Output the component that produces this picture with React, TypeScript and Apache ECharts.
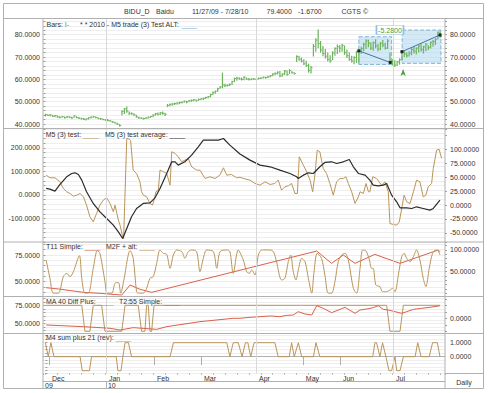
import React, { useEffect, useRef } from 'react';
import * as echarts from 'echarts';

// ---------- axis ticks / labels ----------
const monthTicks = [1.5, 25.3, 45.4, 65, 88, 107.6, 123.1, 145.3];
const monthNames = ['Dec', 'Jan', 'Feb', 'Mar', 'Apr', 'May', 'Jun', 'Jul'];
const yearTicks = [-1, 25.3];
const yearNames = ['09', '10'];
const quarterLines = [25.3, 88, 145.3];

const p1Labels = [40, 50, 60, 70, 80];
const p2LeftLabels = [-100, 0, 100, 200];
const p2RightLabels = [-50, -25, 0, 25, 50, 75, 100];
const p3LeftLabels = [50, 75];
const p3RightLabels = [50, 100];
const p4LeftLabels = [50, 75];
const p4RightLabels = [0];
const p5RightLabels = [0, 1];

// ---------- price bars (daily) ----------
const priceLow = [
  43.4, 43.6, 43.5, 43.2, 43.0, 42.8, 42.6, 42.9, 42.5, 42.7,
  42.8, 42.4, 42.8, 42.6, 42.2, 42.0, 41.8, 41.6, 42.0, 42.5,
  42.8, 42.6, 42.2, 41.9, 41.7, 41.5, 41.2, 41.0, 40.6, 40.2,
  39.6, 38.9, 43.8, 44.5, 45.0, 44.0, 44.2, 43.6, 42.8, 42.4,
  42.2, 42.0, 42.3, 42.5, 42.8, 43.0, 43.8, 43.8, 44.0, 44.2,
  43.6, 47.6, 48.0, 48.2, 48.5, 48.6, 48.9, 49.2, 49.5, 49.3,
  49.8, 50.0, 50.2, 50.1, 50.4, 50.6, 50.8, 51.2, 51.5, 52.0,
  53.0, 53.6, 54.5, 55.8, 56.0, 56.6, 56.8, 57.0, 57.5, 58.8,
  59.4, 59.8, 59.5, 59.6, 59.8, 59.5, 59.6, 59.8, 59.7, 59.9,
  60.2, 60.4, 60.3, 60.6, 61.0, 61.4, 61.8, 62.2, 61.0, 61.2,
  62.0, 61.6, 62.4, 62.6, 62.2, 67.8, 68.4, 67.6, 66.4, 65.6,
  63.0, 62.6, 70.2, 72.4, 74.0, 72.0, 70.4, 69.2, 68.0, 67.4,
  68.6, 70.6, 71.4, 72.0, 72.4, 71.0, 69.6, 68.4, 67.6, 66.8,
  67.4, 67.0, 71.4, 72.6, 73.6, 74.4, 73.2, 72.8, 74.0, 72.6,
  73.0, 74.4, 73.4, 73.6, 66.8, 66.2, 65.6, 66.0, 66.6, 68.4,
  70.0, 69.8, 70.2, 70.8, 71.6, 71.2, 72.0, 72.4, 71.6, 72.6,
  73.0, 73.8, 74.6, 75.4, 78.0, 78.8,
];
const priceHigh = [
  44.6, 44.4, 44.5, 44.1, 44.0, 43.8, 43.5, 43.6, 43.4, 43.6,
  43.5, 43.3, 43.9, 43.5, 43.1, 42.8, 42.7, 42.6, 43.0, 43.4,
  43.6, 43.4, 43.0, 42.8, 42.5, 42.3, 42.2, 41.8, 41.4, 41.0,
  40.6, 40.0, 46.2, 47.2, 47.8, 45.6, 45.2, 44.8, 44.2, 43.3,
  43.0, 42.8, 43.0, 43.4, 43.6, 44.4, 45.0, 45.2, 45.4, 45.6,
  45.0, 49.0, 49.2, 49.4, 49.5, 49.8, 50.0, 50.1, 50.5, 50.4,
  50.8, 51.0, 51.2, 51.0, 51.4, 51.6, 51.8, 52.2, 52.6, 53.6,
  54.6, 55.0, 56.2, 57.0, 63.0, 58.0, 57.8, 58.2, 59.4, 60.8,
  61.2, 61.0, 60.8, 61.4, 60.8, 60.6, 60.5, 60.6, 60.4, 60.8,
  61.0, 61.3, 61.2, 61.6, 62.0, 62.8, 63.2, 63.6, 63.8, 62.8,
  64.2, 64.0, 64.6, 63.8, 63.2, 70.8, 70.6, 69.8, 69.0, 68.4,
  67.0, 66.0, 75.8, 78.4, 82.4, 77.2, 75.0, 73.6, 72.0, 70.8,
  72.6, 74.4, 75.6, 75.4, 76.0, 75.2, 73.4, 72.0, 70.6, 70.4,
  72.8, 73.2, 74.6, 76.4, 78.0, 77.8, 76.6, 77.0, 78.0, 76.0,
  76.8, 77.6, 76.4, 78.0, 72.0, 69.0, 68.6, 68.4, 69.4, 72.8,
  73.0, 72.2, 72.6, 74.0, 74.8, 74.4, 75.6, 76.0, 75.0, 76.2,
  75.4, 77.0, 77.6, 78.4, 81.4, 81.6,
];
const priceClose = [
  44.2, 43.9, 44.0, 43.5, 43.8, 43.2, 43.0, 43.3, 42.8, 43.2,
  43.0, 42.7, 43.6, 42.9, 42.6, 42.4, 42.1, 42.3, 42.8, 43.1,
  43.3, 42.9, 42.4, 42.3, 42.0, 41.8, 41.6, 41.3, 40.9, 40.5,
  40.0, 39.3, 45.6, 46.8, 45.8, 44.8, 44.6, 44.1, 43.2, 42.8,
  42.6, 42.5, 42.7, 43.0, 43.4, 44.0, 44.6, 44.4, 45.0, 44.8,
  44.3, 48.4, 48.8, 49.0, 49.2, 49.4, 49.6, 49.8, 50.2, 49.9,
  50.5, 50.6, 50.9, 50.4, 51.0, 51.3, 51.5, 51.9, 52.3, 53.2,
  54.2, 54.7, 55.8, 56.6, 57.5, 57.2, 57.4, 57.8, 59.0, 60.4,
  60.6, 60.2, 60.0, 61.0, 60.1, 60.0, 60.1, 60.2, 60.0, 60.4,
  60.6, 61.0, 60.8, 61.2, 61.6, 62.4, 62.6, 63.2, 61.6, 62.4,
  63.8, 62.2, 64.0, 63.0, 62.6, 70.2, 69.0, 68.2, 67.0, 66.2,
  64.0, 65.2, 74.8, 77.6, 76.0, 73.2, 71.6, 70.4, 69.0, 68.4,
  71.8, 73.8, 74.6, 74.0, 75.2, 72.0, 70.6, 69.0, 68.2, 69.8,
  72.2, 72.6, 73.8, 75.8, 77.2, 76.2, 74.0, 76.4, 75.0, 73.6,
  76.2, 75.4, 74.0, 77.2, 67.6, 67.0, 66.4, 67.8, 68.8, 72.4,
  71.4, 70.6, 71.8, 73.4, 72.6, 74.0, 74.8, 73.4, 74.6, 75.8,
  74.2, 76.6, 77.0, 78.0, 81.1, 79.4,
];

// ---------- indicator series: [day index, value] ----------
const m5Test = [
  [0.3, 84], [1.9, 72.7], [4, 72.7], [6.1, 55.7], [7.5, 27.4], [8.9, 13.2], [10.3, 6.1], [11.7, -5.2],
  [13.1, -0.9], [14.5, 6.1], [15.9, -8], [17.2, -43.4], [18.6, -93], [20, -114.3], [21.4, -78.8],
  [22.8, -43.4], [24.2, -22.2], [25.6, -12.3], [27, -36.3], [28.4, -71.8], [29.1, -43.4], [30.5, -107.2],
  [31.2, -128.4], [32.3, -178], [32.7, -185], [34, 240], [35, 237], [35.6, 232], [36.7, 105], [38.1, 91],
  [39.5, 55.7], [40.2, 13.2], [40.9, -0.9], [42.3, -8], [43.7, -36.3], [44.8, -43.4], [45.4, -22.2],
  [46.2, 13.2], [47.2, 20.3], [47.9, 105.3], [49.3, 98.2], [50.7, 91.1], [52.1, 41.5], [52.8, 183.2],
  [54.2, 176.1], [55.5, 162], [56.9, 140.7], [58.3, 147.8], [59.7, 154.9], [61.1, 119.5], [63.2, 105.3],
  [64.6, 105.3], [66.7, 69.9], [68.8, 77], [70.9, 69.9], [72.9, 84], [74.4, 115.2], [75.8, 84], [77.8, 86.9],
  [79.9, 72.7], [81.3, 75], [83.4, 68], [85.5, 62.8], [87.6, 48.6], [89.7, 41.5], [91.8, 55.7], [93.9, 44.4],
  [95.9, 48.6], [97.3, 62.8], [98.7, 20.3], [100.1, 34.5], [101.5, 38.7], [102.9, 48.6], [104.3, 6.1],
  [105.3, 6.1], [106.1, 162], [107.8, 126.5], [109.2, 98.2], [110.6, 62.8], [111.7, 13.2], [112.7, 91.1],
  [113.6, 190.3], [114.7, 183.2], [116.1, 112.4], [117.5, 91.1], [118.9, 48.6], [120.3, -0.9], [121.7, 55.7],
  [123.1, 69.9], [124.5, 69.9], [125.6, 77], [126.6, 48.6], [128, 13.2], [129.4, -36.3], [130.8, -8],
  [131.5, 13.2], [132.9, 6.1], [134, 48.6], [135, 13.2], [135.6, 13.2], [136.8, 77], [138.4, 69.9],
  [140.5, 41.5], [141.9, 55.7], [143.3, 13.2], [144, -121.3], [145.4, -125.6], [146.8, -128.4],
  [147.9, -114.3], [148.9, -57.6], [149.9, -0.9], [151, -29.3], [152.4, -36.3], [153.8, 13.2], [155.1, 62.8],
  [156.5, 55.7], [157.9, -8], [159, -0.9], [160, 34.5], [161.4, 48.6], [162.1, 112.4], [163.5, 190.3],
  [164.5, 194.5], [165.6, 154.9],
];
const m5Avg = [
  [0.3, 27.4], [1.9, 24.6], [4, 16.1], [6.1, 44.4], [8.9, 77], [11, 91.1], [12.4, 94], [13.8, 86.9],
  [15.2, 62.8], [17.2, 13.2], [20, -36.3], [22.8, -71.8], [25.6, -100.1], [28.4, -128.4], [30.5, -156.7],
  [32.3, -185.1], [34, -142.6], [36, -93], [38.1, -57.6], [40.9, -36.3], [43.7, -33.5], [45.8, -12.3],
  [47.9, 27.4], [50.7, 91.1], [52.8, 140.7], [54.2, 140.7], [55.5, 126.5], [58.3, 140.7], [61.1, 169],
  [63.9, 204.4], [66, 232.8], [68.8, 232.8], [72.3, 232.8], [74.4, 239.8], [77.1, 211.5], [81.3, 174],
  [85.5, 147.8], [89.7, 126.5], [93.9, 119.5], [98, 105.3], [102.2, 91.1], [105, 77], [105.7, 69.9],
  [107.8, 84], [109.9, 94], [112, 91.1], [114.7, 119.5], [116.8, 137.9], [119.6, 140.7], [121.7, 133.6],
  [124.5, 140.7], [127, 150.6], [128.7, 119.5], [130.8, 91.1], [133.6, 84], [135.6, 62.8], [137, 41.5],
  [139.1, 38.7], [141.2, 41.5], [142.6, 48.6], [144.7, -0.9], [146.8, -29.3], [148.2, -54.8], [151, -54.8],
  [153.1, -57.6], [155.1, -50.5], [157.9, -57.6], [160.7, -64.7], [162.1, -57.6], [164.9, -22.2],
];
const t11Simple = [
  [0.3, 44.4], [5.4, 43.2], [15.9, 40], [22.8, 39.1], [31.9, 37.5], [35.4, 46.9], [39.5, 42.9], [44.4, 40],
  [85.5, 63.1], [113.4, 78.7], [119.6, 67.2], [124.5, 75], [129.4, 67.2], [137.7, 75.6], [148.2, 67.2],
  [164.2, 79.7], [164.9, 78.1],
];
const m2fAlt = [
  [0.3, 77], [1.9, 34.7], [3.3, 0.5], [5.4, 0.5], [7.5, 38.6], [8.9, 46.2], [10.3, 38.6], [11.7, 50.1],
  [14.2, 86.9], [15.2, 34.7], [16.5, 0.5], [17.9, 0.5], [20, 57.8], [21.7, 98.5], [22.8, 92.3], [24.9, 27],
  [25.8, 0.5], [27.7, 0.5], [29.1, 23.2], [30.5, 25], [31.5, 0.5], [32.8, 30.9], [35.4, 98.5], [36.7, 80.8],
  [38.1, 4], [38.8, 0.5], [40.9, 0.5], [42.3, 11.7], [43.7, 34.7], [45.1, 38.6], [46.5, 69.3], [47.9, 100],
  [49.3, 92.3], [50.7, 90], [52.1, 57.8], [53.5, 88.5], [54.9, 100], [57, 96.2], [58.3, 80.8], [59.7, 96.2],
  [61.1, 100], [63.2, 96.2], [64.6, 50.1], [66, 80.8], [67.4, 100], [70.2, 96.2], [71.6, 57.8], [73, 96.2],
  [75.8, 100], [77.1, 96.2], [78.5, 46.2], [80.6, 100], [82.7, 77], [84.1, 50.1], [85.2, 46.2], [86.2, 53.9],
  [87.6, 42.4], [89, 88.5], [90.4, 100], [93.9, 100], [95.3, 96.2], [96.6, 73.1], [98.7, 30.9], [100.1, 34.7],
  [101.5, 73.1], [102.5, 88.5], [103.6, 50.1], [104.7, 30.9], [105.7, 53.9], [107.1, 80.8], [108.5, 73.1],
  [109.9, 34.7], [111.3, 0.5], [112.2, 46.2], [113.6, 92.3], [115.4, 80.8], [116.8, 42.4], [118.2, 0.5],
  [119.6, 0.5], [121, 27], [122.4, 73.1], [123.8, 88.5], [125.2, 92.3], [126.6, 77], [128.7, 11.7],
  [130.1, 0.5], [131.5, 57.8], [132.6, 100], [134, 97.7], [135.4, 77], [136.3, 57.8], [137, 57.8],
  [138.1, 19.4], [139.8, 15.5], [140.9, 4], [142.6, 4], [144, 7.8], [145.1, 11.7], [146.1, 4], [147.5, 42.4],
  [148.9, 84.6], [149.9, 92.3], [151, 80.8], [152.4, 73.1], [153.8, 84.6], [155.1, 100], [156.5, 77],
  [157.9, 34.7], [159, 15.5], [160.4, 57.8], [161.8, 92.3], [163.2, 100], [164.2, 97.7], [164.9, 88.5],
];
const ma40Diff = [
  [0, 1], [15.2, 1], [16.5, -1], [18.6, -1], [20, 1], [23.5, 1], [24.9, -1], [31.9, -1], [33.3, 1], [38.8, 1],
  [40.2, -1], [41.6, -1], [42.3, 1], [43, 1], [43.7, -1], [44.4, -1], [45.4, 1], [142.6, 1], [144, -1],
  [148.2, -1], [149.6, 1], [165, 1],
];
const t255Simple = [
  [0.3, 47.6], [15.9, 45.2], [27, 42.9], [31.2, 40.5], [36.7, 43.8], [46.5, 41.4], [50.7, 45.2], [64.6, 52.3],
  [78.5, 57.1], [81.3, 57.1], [85.5, 58.5], [89.7, 59.4], [93.9, 60.4], [98, 59.4], [100.8, 61.3],
  [103.6, 61.8], [105.7, 66.5], [108.5, 63.2], [111.3, 61.8], [113.4, 75], [116.1, 71.3], [119.6, 65.1],
  [123.1, 69.8], [125.2, 72.7], [129.4, 64.2], [131.5, 68.9], [134.2, 70.3], [137, 72.2], [139.1, 75],
  [141.2, 69.8], [143.3, 68.9], [146.1, 66.5], [148.9, 64.2], [151, 66.5], [153.8, 69.8], [157.2, 71.3],
  [160.7, 72.7], [164.9, 75],
];
const m4Sum = [
  [0, 1], [1.2, 0], [2.3, 1], [3.6, 0], [14.5, 0], [15.4, -1], [18.4, -1], [19.3, 0], [29.6, 0], [30.3, -1],
  [31.6, -1], [32.4, 0], [33.3, 1], [34.7, 1], [36, 0], [52.1, 0], [53.5, 1], [75.8, 1], [77.1, 0], [78.5, 1],
  [80.6, 1], [82.2, 0], [83.6, 1], [84.6, 1], [85.8, 0], [87.2, 1], [95.9, 1], [97.3, 0], [101.9, 0],
  [102.9, 1], [104, 0], [105.7, 1], [107.1, 0], [112, 0], [113.1, 1], [114.7, 0], [136.8, 0], [137.7, 1],
  [138.4, 1], [139.8, 0], [140.9, 1], [142.3, 0], [143.6, -1], [144.7, -1], [146.1, 0], [146.8, -1],
  [148.2, -1], [149.6, 0], [154.5, 0], [155.6, 1], [157, 0], [160.4, 0], [161.8, 1], [163.8, 1], [164.9, 0],
];

// ---------- annotation (trade boxes) ----------
const tradeBoxes = [
  [[131, 79.1], [144.7, 66.7]],
  [[149.1, 82.1], [165.3, 67.2]],
];
const tradeLines = [
  [[131, 72.8], [144.1, 67.6]],
  [[149, 72.4], [164.9, 79.9]],
];
const tradeLabel = { coord: [144, 82.1], text: '-5.2800' };
const tradeArrow = [149.5, 64.6];

const FONT = 'Liberation Sans, Arial, Helvetica, sans-serif';
const TXT = '#333';
const FINE = '#eeeeee';
const TICK = '#9a9a9a';
const ORANGE = '#bb955a';
const RED = '#d9604a';
const GREEN = '#6db35d';
const FRAME = '#b0b0b0';

const near = (list: number[], v: number) => list.findIndex((l) => Math.abs(l - v) < 1e-3);

function yAx(gridIndex: number, position: string, min: number, max: number, step: number, labels: number[], split: boolean) {
  return {
    type: 'value',
    gridIndex,
    position,
    min,
    max,
    minInterval: step,
    maxInterval: step,
    axisLine: { show: false },
    axisTick: { show: true, length: 2, lineStyle: { color: TICK } },
    axisLabel: {
      show: true,
      fontSize: 7,
      color: TXT,
      fontFamily: FONT,
      margin: position === 'left' ? 3 : 5,
      formatter: (v: number) => (near(labels, v) >= 0 ? v.toFixed(4) : ''),
    },
    splitLine: { show: split, lineStyle: { color: FINE, width: 1 } },
  };
}

function hiddenX(gridIndex: number) {
  return { type: 'value', gridIndex, min: -1, max: 167, show: false, splitLine: { show: false } };
}

function quarterHelper(xi: number, yi: number) {
  return {
    type: 'line',
    xAxisIndex: xi,
    yAxisIndex: yi,
    data: [],
    silent: true,
    z: 1,
    markLine: {
      silent: true,
      symbol: ['none', 'none'],
      label: { show: false },
      lineStyle: { color: '#d9d9d9', width: 1, type: 'solid' },
      data: quarterLines.map((v) => ({ xAxis: v })),
    },
  };
}

function lineSeries(name: string, xi: number, yi: number, data: number[][], color: string, extra: any = {}) {
  return {
    type: 'line',
    name,
    xAxisIndex: xi,
    yAxisIndex: yi,
    data,
    showSymbol: false,
    symbol: 'none',
    lineStyle: { color, width: 1 },
    itemStyle: { color },
    z: 3,
    ...extra,
  };
}

function legendText(x: number, y: number, label: string, color: string) {
  return {
    type: 'text',
    x,
    y,
    z: 20,
    style: {
      text: `{t|${label} }{s|____}`,
      verticalAlign: 'middle',
      rich: {
        t: { fill: TXT, fontSize: 7, fontFamily: FONT },
        s: { fill: color, fontSize: 7, fontFamily: FONT },
      },
    },
  };
}

function plainText(x: number, y: number, text: string, align = 'left', fill = TXT) {
  return {
    type: 'text',
    x,
    y,
    z: 20,
    style: { text, fill, fontSize: 7, fontFamily: FONT, align, verticalAlign: 'middle' },
  };
}

function hLine(x1: number, x2: number, y: number, color = FRAME) {
  return { type: 'line', z: 15, shape: { x1, y1: y, x2, y2: y }, style: { stroke: color, lineWidth: 1 } };
}
function vLine(x: number, y1: number, y2: number, color = FRAME) {
  return { type: 'line', z: 15, shape: { x1: x, y1, x2: x, y2 }, style: { stroke: color, lineWidth: 1 } };
}

export default function App() {
  const ref = useRef<HTMLDivElement>(null);
  useEffect(() => {
    if (!ref.current) return;
    const chart = echarts.init(ref.current, undefined, { renderer: 'svg' });

    const bars = priceLow.map((lo, i) => [i, lo, priceHigh[i], priceClose[i]]);

    const option: any = {
      animation: false,
      backgroundColor: '#fff',
      textStyle: { fontFamily: FONT },
      grid: [
        { left: 43, top: 18, width: 402, height: 110.5 },
        { left: 43, top: 129, width: 402, height: 113 },
        { left: 43, top: 242, width: 402, height: 54 },
        { left: 43, top: 296, width: 402, height: 37 },
        { left: 43, top: 333, width: 402, height: 40.3 },
      ],
      xAxis: [
        hiddenX(0),
        hiddenX(1),
        hiddenX(2),
        hiddenX(3),
        {
          type: 'value',
          gridIndex: 4,
          min: -1,
          max: 167,
          position: 'bottom',
          axisLine: { show: true, lineStyle: { color: FRAME } },
          axisTick: { show: true, customValues: monthTicks, length: 8.4, lineStyle: { color: FRAME } },
          axisLabel: {
            show: true,
            customValues: monthTicks,
            formatter: (v: number) => monthNames[near(monthTicks, v)] ?? '',
            align: 'left',
            padding: [0, 0, 0, 3],
            margin: 1.5,
            fontSize: 7,
            color: TXT,
            fontFamily: FONT,
          },
          splitLine: { show: false },
        },
        {
          type: 'value',
          gridIndex: 4,
          min: -1,
          max: 167,
          position: 'bottom',
          offset: 8.4,
          axisLine: { show: true, lineStyle: { color: FRAME } },
          axisTick: { show: true, customValues: [yearTicks[1]], length: 7, lineStyle: { color: FRAME } },
          axisLabel: {
            show: true,
            customValues: yearTicks,
            formatter: (v: number) => yearNames[near(yearTicks, v)] ?? '',
            align: 'left',
            padding: [0, 0, 0, 2],
            margin: 0,
            fontSize: 7,
            color: TXT,
            fontFamily: FONT,
          },
          splitLine: { show: false },
        },
        {
          type: 'value',
          gridIndex: 4,
          min: -1,
          max: 167,
          position: 'bottom',
          minInterval: 5,
          maxInterval: 5,
          axisLine: { show: false },
          axisTick: { show: true, length: 1.5, lineStyle: { color: '#aaa' } },
          axisLabel: { show: false },
          splitLine: { show: false },
        },
      ],
      yAxis: [
        yAx(0, 'left', 38, 87.5, 2, p1Labels, true),
        yAx(0, 'right', 38, 87.5, 2, p1Labels, false),
        yAx(1, 'left', -200, 280, 20, p2LeftLabels, true),
        yAx(1, 'right', -66.4, 136.4, 25, p2RightLabels, false),
        yAx(2, 'left', 36.6, 87.2, 5, p3LeftLabels, true),
        yAx(2, 'right', -6, 118.4, 10, p3RightLabels, false),
        yAx(3, 'left', 36.2, 88.8, 5, p4LeftLabels, true),
        yAx(3, 'right', -1.13, 1.715, 0.5, p4RightLabels, false),
        yAx(4, 'right', -1.186, 1.693, 0.25, p5RightLabels, true),
      ],
      series: [
        quarterHelper(0, 0),
        quarterHelper(1, 2),
        quarterHelper(2, 4),
        quarterHelper(3, 6),
        quarterHelper(4, 8),
        {
          type: 'custom',
          name: 'Bars',
          xAxisIndex: 0,
          yAxisIndex: 0,
          z: 4,
          dimensions: ['i', 'low', 'high', 'close'],
          encode: { x: 0, y: [1, 2, 3] },
          data: bars,
          renderItem: (params: any, api: any) => {
            const x = api.value(0);
            const lo = api.coord([x, api.value(1)]);
            const hi = api.coord([x, api.value(2)]);
            const cl = api.coord([x, api.value(3)]);
            return {
              type: 'group',
              children: [
                { type: 'line', shape: { x1: lo[0], y1: lo[1], x2: hi[0], y2: hi[1] }, style: { stroke: GREEN, lineWidth: 1.2 } },
                { type: 'line', shape: { x1: cl[0], y1: cl[1], x2: cl[0] + 1.6, y2: cl[1] }, style: { stroke: GREEN, lineWidth: 1 } },
              ],
            };
          },
          markArea: {
            silent: true,
            itemStyle: { color: 'rgba(170, 212, 238, 0.5)', borderColor: '#7db4d8', borderWidth: 1, borderType: 'dashed' },
            label: { show: false },
            data: tradeBoxes.map(([a, b]) => [{ coord: a }, { coord: b }]),
          },
          markLine: {
            silent: true,
            symbol: ['none', 'none'],
            label: { show: false },
            lineStyle: { color: '#3f76ab', width: 1, type: 'solid' },
            data: tradeLines.map(([a, b]) => [{ coord: a }, { coord: b }]),
          },
          markPoint: {
            silent: true,
            data: [
              {
                coord: tradeLabel.coord,
                symbol: 'rect',
                symbolSize: [27, 9],
                itemStyle: { color: '#ffffff', borderColor: '#8fc0dd', borderWidth: 1 },
                label: { show: true, position: 'inside', formatter: tradeLabel.text, color: '#3d9b3d', fontSize: 7, fontFamily: FONT },
              },
              { coord: tradeArrow, symbol: 'arrow', symbolSize: [4, 7], itemStyle: { color: '#4aa040' }, label: { show: false } },
              ...tradeLines.flat().map((c) => ({
                coord: c,
                symbol: 'rect',
                symbolSize: 3,
                itemStyle: { color: '#222' },
                label: { show: false },
              })),
            ],
          },
        },
        lineSeries('M5 (3) test', 1, 2, m5Test, ORANGE),
        lineSeries('M5 (3) test average', 1, 2, m5Avg, '#2b2b2b', { lineStyle: { color: '#2b2b2b', width: 1.2 } }),
        lineSeries('T11 Simple', 2, 4, t11Simple, RED),
        lineSeries('M2F + alt', 2, 5, m2fAlt, ORANGE, { smooth: 0.3 }),
        lineSeries('MA 40 Diff Plus', 3, 7, ma40Diff, ORANGE),
        lineSeries('T2:55 Simple', 3, 6, t255Simple, RED),
        lineSeries('M4 sum plus 21 (rev)', 4, 8, m4Sum, ORANGE),
      ],
      graphic: [
        { type: 'rect', z: 15, shape: { x: 3.5, y: 3.5, width: 480, height: 385 }, style: { fill: 'none', stroke: FRAME, lineWidth: 1 } },
        hLine(3.5, 483.5, 18.5),
        hLine(3.5, 483.5, 128.5),
        hLine(3.5, 483.5, 242),
        hLine(3.5, 483.5, 296.5),
        hLine(3.5, 483.5, 333.5),
        hLine(445, 483.5, 373.5),
        vLine(43, 18.5, 388.5),
        vLine(445, 18.5, 388.5),
        plainText(124, 11, 'BIDU_D'),
        plainText(156, 11, 'Baidu'),
        plainText(192, 11, '11/27/09 - 7/28/10'),
        plainText(266.5, 11, '79.4000'),
        plainText(298, 11, '-1.6700'),
        plainText(341.5, 11, 'CGTS ©'),
        {
          type: 'text',
          x: 46.5,
          y: 24,
          z: 20,
          style: {
            text: '{t|Bars: }{g|I-}',
            verticalAlign: 'middle',
            rich: { t: { fill: TXT, fontSize: 7, fontFamily: FONT }, g: { fill: '#3d9b3d', fontSize: 7, fontFamily: FONT } },
          },
        },
        legendText(80, 24, '* * 2010 - M5 trade (3) Test ALT:', '#6aaed6'),
        legendText(45.7, 134, 'M5 (3) test:', ORANGE),
        legendText(105, 134, 'M5 (3) test average:', '#2b2b2b'),
        legendText(46, 246, 'T11 Simple:', RED),
        legendText(106, 246, 'M2F + alt:', ORANGE),
        legendText(46, 301, 'MA 40 Diff Plus:', ORANGE),
        legendText(119, 301, 'T2:55 Simple:', RED),
        legendText(46, 337.7, 'M4 sum plus 21 (rev):', ORANGE),
        plainText(464, 382, 'Daily', 'center'),
      ],
    };

    chart.setOption(option);
    return () => chart.dispose();
  }, []);

  return <div ref={ref} style={{ position: 'absolute', left: 0, top: 0, width: 490, height: 393 }} />;
}
